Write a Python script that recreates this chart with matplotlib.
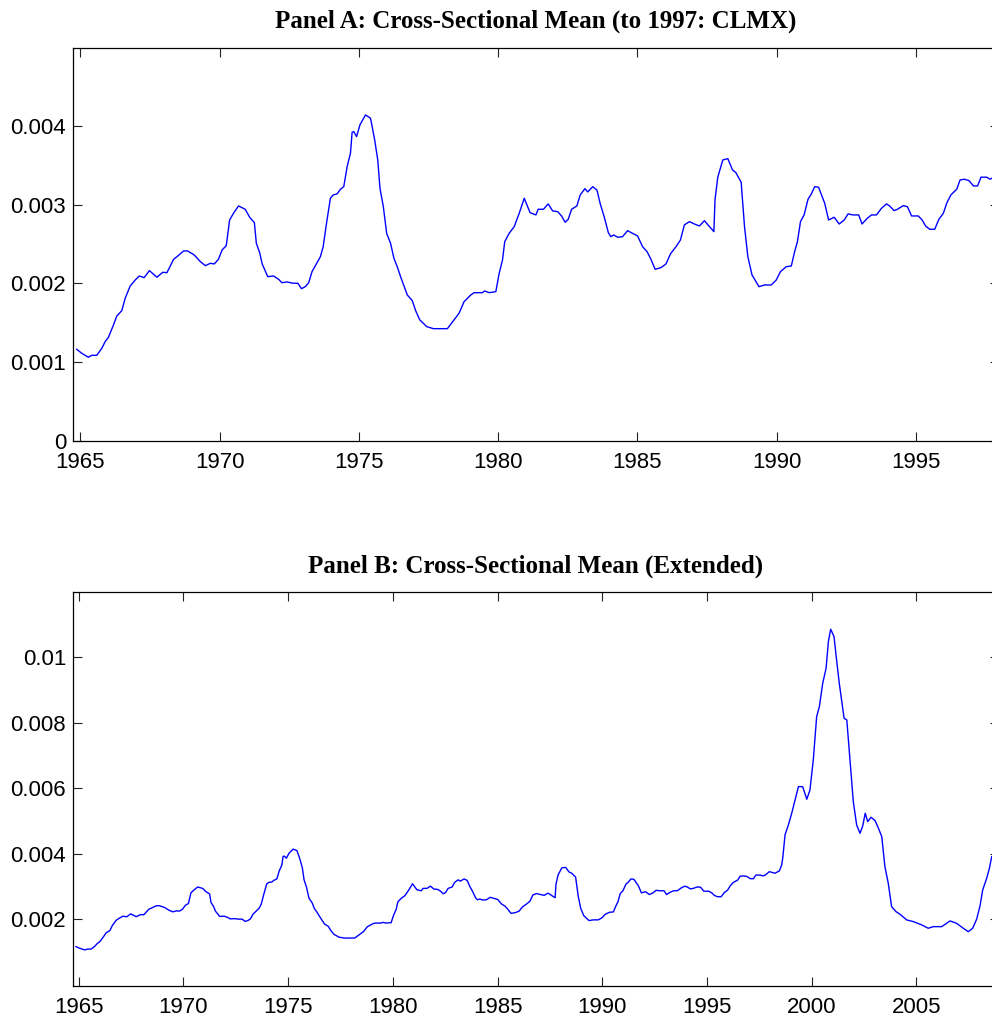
import numpy as np
import matplotlib
matplotlib.use('Agg')
import matplotlib.pyplot as plt

# cross-sectional mean (units of 1e-3)
years_clmx = [1964.87, 1965.05, 1965.29, 1965.41, 1965.59, 1965.77, 1965.89, 1966.01, 1966.19, 1966.31,
              1966.49, 1966.61, 1966.79, 1966.97, 1967.12, 1967.29, 1967.48, 1967.75, 1967.96, 1968.11,
              1968.35, 1968.47, 1968.71, 1968.85, 1969.09, 1969.31, 1969.49, 1969.67, 1969.81, 1969.96,
              1970.09, 1970.24, 1970.36, 1970.50, 1970.68, 1970.92, 1971.08, 1971.25, 1971.32, 1971.44,
              1971.53, 1971.73, 1971.94, 1972.12, 1972.24, 1972.42, 1972.64, 1972.81, 1972.94, 1973.08,
              1973.20, 1973.32, 1973.50, 1973.62, 1973.72, 1973.84, 1973.98, 1974.08, 1974.22, 1974.34,
              1974.46, 1974.58, 1974.70, 1974.76, 1974.82, 1974.92, 1975.04, 1975.24, 1975.42, 1975.57,
              1975.68, 1975.76, 1975.88, 1976.00, 1976.14, 1976.26, 1976.38, 1976.50, 1976.74, 1976.92,
              1977.04, 1977.19, 1977.44, 1977.68, 1978.18, 1978.42, 1978.60, 1978.78, 1979.02, 1979.14,
              1979.44, 1979.52, 1979.68, 1979.92, 1980.04, 1980.16, 1980.24, 1980.40, 1980.58, 1980.76,
              1980.94, 1981.15, 1981.36, 1981.44, 1981.63, 1981.80, 1981.96, 1982.14, 1982.28, 1982.41,
              1982.52, 1982.64, 1982.83, 1982.95, 1983.12, 1983.22, 1983.40, 1983.55, 1983.67, 1983.81,
              1983.96, 1984.05, 1984.15, 1984.29, 1984.47, 1984.65, 1984.83, 1985.01, 1985.19, 1985.35,
              1985.49, 1985.64, 1985.85, 1986.03, 1986.19, 1986.39, 1986.55, 1986.69, 1986.87, 1987.05,
              1987.23, 1987.41, 1987.59, 1987.75, 1987.79, 1987.89, 1988.07, 1988.25, 1988.42, 1988.54,
              1988.73, 1988.85, 1988.97, 1989.12, 1989.37, 1989.57, 1989.81, 1989.99, 1990.14, 1990.35,
              1990.53, 1990.65, 1990.75, 1990.86, 1990.99, 1991.13, 1991.25, 1991.37, 1991.51, 1991.63,
              1991.73, 1991.87, 1992.07, 1992.25, 1992.43, 1992.57, 1992.75, 1992.95, 1993.07, 1993.26,
              1993.41, 1993.59, 1993.77, 1993.95, 1994.06, 1994.22, 1994.34, 1994.55, 1994.70, 1994.85,
              1995.09, 1995.23, 1995.35, 1995.50, 1995.68, 1995.83, 1995.99, 1996.11, 1996.26, 1996.47,
              1996.59, 1996.75, 1996.91, 1997.07, 1997.22, 1997.34, 1997.55, 1997.67, 1997.79, 1997.98]
mean_clmx = [1.164, 1.114, 1.063, 1.088, 1.088, 1.177, 1.261, 1.317, 1.473, 1.587,
             1.655, 1.812, 1.968, 2.044, 2.095, 2.074, 2.163, 2.079, 2.142, 2.137,
             2.307, 2.340, 2.413, 2.413, 2.362, 2.277, 2.226, 2.256, 2.248, 2.307,
             2.425, 2.480, 2.806, 2.891, 2.984, 2.942, 2.841, 2.772, 2.510, 2.391,
             2.248, 2.086, 2.095, 2.053, 2.010, 2.019, 2.003, 2.003, 1.934, 1.960,
             2.010, 2.150, 2.264, 2.340, 2.467, 2.764, 3.082, 3.124, 3.137, 3.196,
             3.229, 3.483, 3.653, 3.920, 3.928, 3.864, 4.013, 4.140, 4.098, 3.822,
             3.568, 3.209, 2.975, 2.637, 2.510, 2.320, 2.213, 2.086, 1.854, 1.782,
             1.655, 1.537, 1.452, 1.426, 1.426, 1.537, 1.622, 1.769, 1.854, 1.883,
             1.883, 1.905, 1.883, 1.896, 2.129, 2.298, 2.531, 2.637, 2.722, 2.891,
             3.082, 2.899, 2.870, 2.942, 2.942, 3.010, 2.921, 2.912, 2.857, 2.777,
             2.815, 2.942, 2.984, 3.124, 3.204, 3.162, 3.229, 3.187, 3.010, 2.848,
             2.645, 2.594, 2.616, 2.587, 2.594, 2.670, 2.637, 2.603, 2.467, 2.404,
             2.307, 2.180, 2.201, 2.248, 2.375, 2.467, 2.552, 2.743, 2.785, 2.755,
             2.730, 2.797, 2.722, 2.658, 3.060, 3.349, 3.568, 3.585, 3.441, 3.407,
             3.285, 2.722, 2.340, 2.108, 1.959, 1.981, 1.981, 2.044, 2.150, 2.213,
             2.222, 2.404, 2.531, 2.785, 2.870, 3.069, 3.137, 3.229, 3.221, 3.111,
             3.018, 2.806, 2.840, 2.755, 2.806, 2.883, 2.870, 2.870, 2.755, 2.828,
             2.870, 2.870, 2.955, 3.010, 2.984, 2.925, 2.942, 2.988, 2.975, 2.857,
             2.857, 2.806, 2.730, 2.688, 2.688, 2.815, 2.891, 3.018, 3.124, 3.196,
             3.314, 3.323, 3.306, 3.238, 3.238, 3.349, 3.349, 3.323, 3.349, 3.453]

# extension after 1997
years_ext = [1998.25, 1998.46, 1998.57, 1998.62, 1998.73, 1998.89, 1999.05, 1999.21, 1999.37, 1999.57,
             1999.77, 1999.92, 2000.08, 2000.24, 2000.37, 2000.53, 2000.69, 2000.80, 2000.91, 2001.07,
             2001.20, 2001.32, 2001.55, 2001.68, 2001.83, 2001.99, 2002.15, 2002.31, 2002.44, 2002.56,
             2002.68, 2002.84, 2003.03, 2003.19, 2003.35, 2003.50, 2003.66, 2003.82, 2004.03, 2004.22,
             2004.54, 2004.86, 2005.26, 2005.57, 2005.81, 2006.21, 2006.61, 2006.92, 2007.24, 2007.48,
             2007.69, 2007.88, 2008.04, 2008.17, 2008.36, 2008.49, 2008.60]
mean_ext = [3.405, 3.475, 3.658, 3.862, 4.574, 4.879, 5.237, 5.643, 6.049, 6.049,
            5.664, 5.948, 6.864, 8.186, 8.492, 9.206, 9.664, 10.476, 10.855, 10.629,
            9.866, 9.206, 8.137, 8.086, 6.864, 5.591, 4.879, 4.626, 4.849, 5.237,
            4.980, 5.114, 5.011, 4.779, 4.522, 3.606, 3.099, 2.385, 2.232, 2.153,
            1.979, 1.927, 1.826, 1.725, 1.774, 1.774, 1.948, 1.878, 1.725, 1.621,
            1.725, 2.000, 2.406, 2.895, 3.252, 3.557, 3.911]

xticks_a = [1965, 1970, 1975, 1980, 1985, 1990, 1995]
yticks_a = [0, 0.001, 0.002, 0.003, 0.004]
xticks_b = [1965, 1970, 1975, 1980, 1985, 1990, 1995, 2000, 2005]
yticks_b = [0.002, 0.004, 0.006, 0.008, 0.01]


def style_axes(ax):
    ax.tick_params(direction='in', top=True, right=True, length=6.5, width=0.8,
                   labelsize=16, color='#222222')
    ax.tick_params(axis='y', pad=5)
    ax.tick_params(axis='x', pad=8)
    for sp in ax.spines.values():
        sp.set_linewidth(0.9)
    for lab in ax.get_xticklabels() + ax.get_yticklabels():
        lab.set_fontfamily('Liberation Sans')


def main():
    x_a = np.array(years_clmx)
    y_a = np.array(mean_clmx) * 1e-3
    x_b = np.concatenate([x_a, years_ext])
    y_b = np.concatenate([y_a, np.array(mean_ext) * 1e-3])

    fig = plt.figure(figsize=(9.92, 10.18), dpi=100)
    title_font = dict(family='Liberation Serif', weight='bold', size=18)

    ax1 = fig.add_axes([0.0736, 0.5668, 0.9335, 0.3861])
    ax1.plot(x_a, y_a, color='#0000ff', lw=1.0)
    ax1.set_xlim(1964.737, 1997.99)
    ax1.set_ylim(0, 0.00499)
    ax1.set_xticks(xticks_a)
    ax1.set_yticks(yticks_a)
    ax1.set_yticklabels(['0', '0.001', '0.002', '0.003', '0.004'])
    ax1.set_title('Panel A: Cross-Sectional Mean (to 1997: CLMX)', fontdict=title_font, pad=15)
    style_axes(ax1)

    ax2 = fig.add_axes([0.0736, 0.0317, 0.9335, 0.3864])
    ax2.plot(x_b, y_b, color='#0000ff', lw=1.0)
    ax2.set_xlim(1964.728, 2008.95)
    ax2.set_ylim(-0.00003, 0.01198)
    ax2.set_xticks(xticks_b)
    ax2.set_yticks(yticks_b)
    ax2.set_yticklabels(['0.002', '0.004', '0.006', '0.008', '0.01'])
    ax2.set_title('Panel B: Cross-Sectional Mean (Extended)', fontdict=title_font, pad=14.5)
    style_axes(ax2)

    fig.savefig('out.png', dpi=100)


if __name__ == "__main__":
    main()
